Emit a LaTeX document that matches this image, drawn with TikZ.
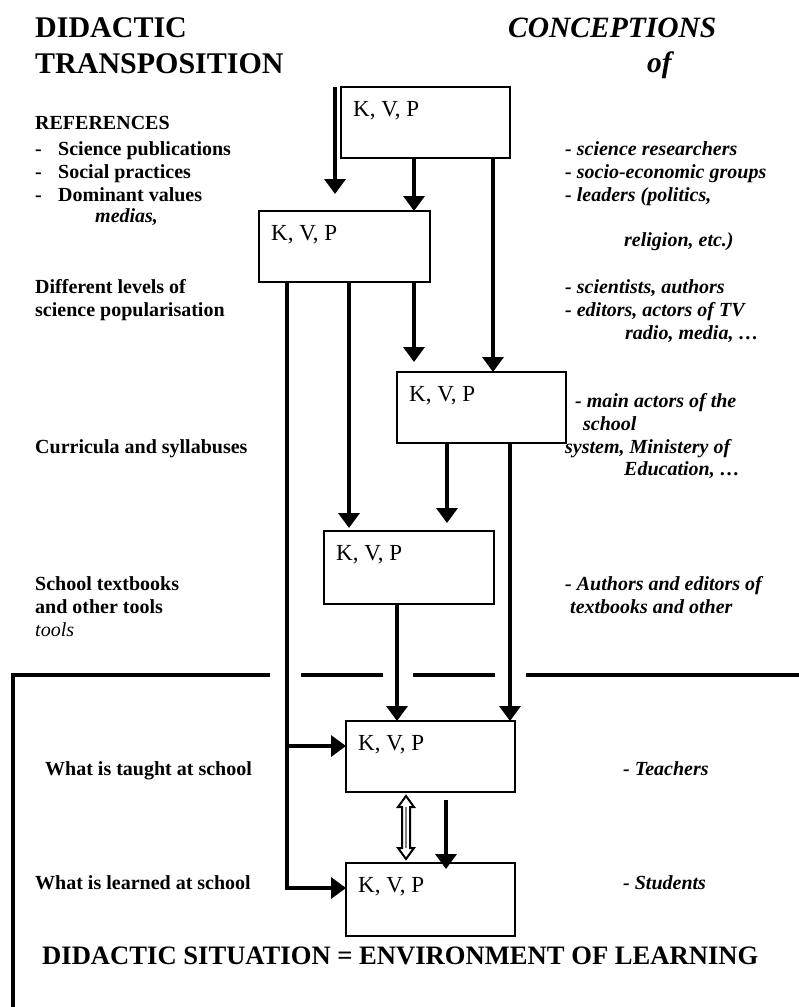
\documentclass[tikz,border=0pt]{standalone}
\usepackage{fontspec}
\setmainfont{Liberation Serif}
\usetikzlibrary{arrows.meta,calc}
\begin{document}
\begin{tikzpicture}[x=1pt,y=-1pt,
  box/.style={draw,line width=1.5pt,minimum width=169pt,minimum height=71pt,inner sep=0pt,outer sep=0pt},
  klab/.style={anchor=base west,inner sep=0pt,font=\fontsize{23}{26}\selectfont},
  hd/.style={anchor=base west,inner sep=0pt,font=\fontsize{30}{34}\selectfont\bfseries},
  lb/.style={anchor=base west,inner sep=0pt,font=\fontsize{20}{23}\selectfont\bfseries},
  rb/.style={anchor=base west,inner sep=0pt,font=\fontsize{20}{23}\selectfont\bfseries\itshape},
  arr/.style={line width=3.5pt,line join=miter,-{Triangle[width=21pt,length=15pt]}},
  frame/.style={line width=3.5pt,line join=miter}]
\useasboundingbox (0,0) rectangle (799,1007);

% boxes
\node[box] (b1) at (425.5,122.5) {};
\node[box,minimum width=171pt] (b2) at (344.5,246.5) {};
\node[box] (b3) at (481.5,407.5) {};
\node[box,minimum width=170pt,minimum height=73pt] (b4) at (409,567.5) {};
\node[box] (b5) at (430.5,756.5) {};
\node[box,minimum height=73pt] (b6) at (430.5,899.5) {};
\foreach \b in {b1,b2,b3,b4,b5,b6}
  \node[klab] (k\b) at ($(\b.north west)+(12,29)$) {K, V, P};

% x positions of connectors
\coordinate (xB) at (414,0);
\coordinate (xC) at (493,0);
\coordinate (xD) at (414,0);
\coordinate (xE) at (349,0);
\coordinate (xF) at (287,0);
\coordinate (xG) at (447,0);
\coordinate (xH) at (510,0);
\coordinate (xI) at (397,0);
\coordinate (xJ) at (446,0);
\coordinate (dd) at (406,0);
\coordinate (a0) at (335,87);
\coordinate (a1) at (335,194);
\coordinate (f1) at (287,746);
\coordinate (f2) at (287,888);

% connectors
\draw[arr] (a0) -- (a1);
\draw[arr] (b1.south -| xB) -- (b2.north -| xB);
\draw[arr] (b1.south -| xC) -- (b3.north -| xC);
\draw[arr,shorten >=10pt] (b2.south -| xD) -- (b3.north -| xD);
\draw[arr,shorten >=3pt] (b2.south -| xE) -- (b4.north -| xE);
\draw[arr] (b2.south -| xF) -- (f2) -- (f2 -| b6.west);
\draw[arr] (f1) -- (f1 -| b5.west);
\draw[arr,shorten >=8pt] (b3.south -| xG) -- (b4.north -| xG);
\draw[arr] (b3.south -| xH) -- (b5.north -| xH);
\draw[arr] (b4.south -| xI) -- (b5.north -| xI);
\draw[arr,shorten <=8pt,shorten >=-6pt] (b5.south -| xJ) -- (b6.north -| xJ);
% hollow double arrow
\draw[line width=2pt,fill=white,line join=miter] ($(b5.south -| dd)+(0,4)$) -- ++(8,11) -- ++(-4,0) -- ++(0,41) -- ++(4,0) -- ++(-8,11) -- ++(-8,-11) -- ++(4,0) -- ++(0,-41) -- ++(-4,0) -- cycle;
\draw[gray,line width=1.2pt] ($(b5.south -| dd)+(0,15)$) -- ++(0,41);

% environment frame (top line broken where connectors pass)
\draw[frame] (13,1007) -- (13,675) -- (270,675);
\draw[frame] (301,675) -- (383,675);
\draw[frame] (413,675) -- (495,675);
\draw[frame] (526,675) -- (799,675);

% headers
\node[hd] (h1) at (35,37) {DIDACTIC};
\node[hd] (h2) at (35,73) {TRANSPOSITION};
\node[hd,font=\fontsize{29.5}{34}\selectfont\bfseries\itshape] (h3) at (508,37) {CONCEPTIONS};
\node[hd,font=\fontsize{29.5}{34}\selectfont\bfseries\itshape] (h4) at (647,72) {of};

% left column
\node[lb] (l0) at (35,129) {REFERENCES};
\node[lb] (d1) at (35,155) {-};
\node[lb] (d2) at (35,178) {-};
\node[lb] (d3) at (35,201) {-};
\node[lb] (l1) at (58,155) {Science publications};
\node[lb] (l2) at (58,178) {Social practices};
\node[lb] (l3) at (58,201) {Dominant values};
\node[rb] (l4) at (95,222) {medias,};
\node[lb] (l5) at (35,293) {Different levels of};
\node[lb] (l6) at (35,316) {science popularisation};
\node[lb] (l7) at (35,453) {Curricula and syllabuses};
\node[lb] (l8) at (35,590) {School textbooks};
\node[lb] (l9) at (35,613) {and other tools};
\node[lb,font=\fontsize{20}{23}\selectfont\rmfamily\itshape] (l10) at (35,636) {tools};
\node[lb] (l11) at (45,775) {What is taught at school};
\node[lb] (l12) at (35,889) {What is learned at school};
\node[hd] (bt) at (42,964) {\scalebox{0.887}{DIDACTIC SITUATION = ENVIRONMENT OF LEARNING}};

% right column
\node[rb] (r1) at (565,155) {- science researchers};
\node[rb] (r2) at (565,178) {- socio-economic groups};
\node[rb] (r3) at (565,201) {- leaders (politics,};
\node[rb] (r4) at (624,246) {religion, etc.)};
\node[rb] (r5) at (565,293) {- scientists, authors};
\node[rb] (r6) at (565,316) {- editors, actors of TV};
\node[rb] (r7) at (625,339) {radio, media, …};
\node[rb] (r8) at (575,407) {- main actors of the};
\node[rb] (r9) at (583,430) {school};
\node[rb] (r10) at (565,453) {system, Ministery of};
\node[rb] (r11) at (624,475) {Education, …};
\node[rb] (r12) at (565,590) {- Authors and editors of};
\node[rb] (r13) at (570,613) {textbooks and other};
\node[rb] (r14) at (623,775) {- Teachers};
\node[rb] (r15) at (623,889) {- Students};
\end{tikzpicture}
\end{document}
